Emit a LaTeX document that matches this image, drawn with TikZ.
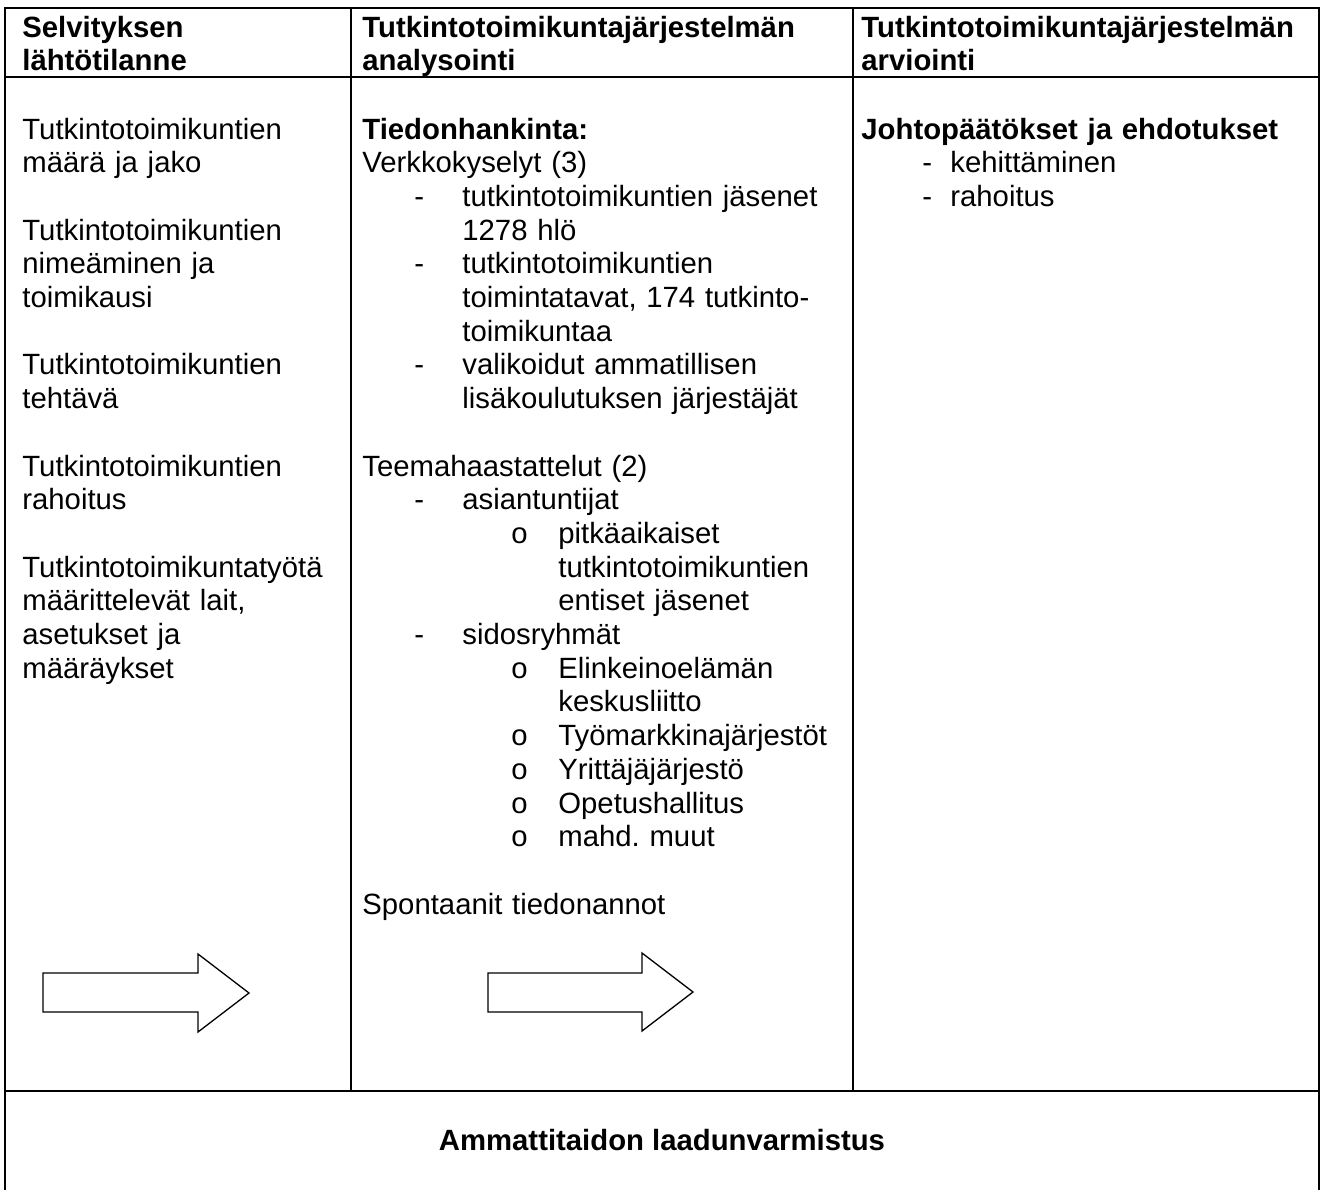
\documentclass[tikz,border=0pt]{standalone}
\usepackage{fontspec}
\setmainfont{Liberation Sans}
\usepackage{tikz}
\frenchspacing

% list indents inside the cells
\newcommand{\dashitem}{\hspace*{26pt}\makebox[24pt][l]{-}}
\newcommand{\dashcont}{\hspace*{50pt}}
\newcommand{\circitem}{\hspace*{74.5pt}\makebox[23.5pt][l]{o}}
\newcommand{\circcont}{\hspace*{98pt}}
\newcommand{\evalitem}{\hspace*{30.5pt}\makebox[14pt][l]{-}}

\begin{document}
\begin{tikzpicture}[
        x=0.5pt, y=-0.5pt,
        heading/.style={
            % The anchor
            anchor=base west,
            inner sep=0pt,
            % The box
            text width=225pt,
            align=left,
            % Font
            font=\fontsize{14.65pt}{16.85pt}\selectfont\bfseries
        },
        cell/.style={
            % The anchor
            anchor=base west,
            inner sep=0pt,
            % The box
            text width=242pt,
            align=left,
            % Font
            font=\fontsize{14.65pt}{16.85pt}\selectfont
        },
        rule/.style={
            % The border
            line width=1pt,
            line cap=rect,
            draw=black
        },
        blockarrow/.style={
            % The border
            line width=0.65pt,
            line join=miter,
            draw=black,
            fill=white
        },
    ]
        \useasboundingbox (0,0) rectangle (1322,1189);

        % table grid
        \draw[rule] (5,8) -- (1319,8);
        \draw[rule] (5,8) -- (5,1189);
        \draw[rule] (1319,8) -- (1319,1189);
        \draw[rule] (5,77) -- (1319,77);
        \draw[rule] (5,1091) -- (1319,1091);
        \draw[rule] (351,8) -- (351,1091);
        \draw[rule] (853,8) -- (853,1091);

        % headings
        \node (startHead) [heading] at (22,37) {Selvityksen \\ lähtötilanne};
        \node (analysisHead) [heading] at (362,37) {Tutkintotoimikuntajärjestelmän \\ analysointi};
        \node (evalHead) [heading] at (861,37) {Tutkintotoimikuntajärjestelmän \\ arviointi};

        % first column
        \node (startCell) [cell] at (22,139) {Tutkintotoimikuntien \\ määrä ja jako \\[16.85pt]
        Tutkintotoimikuntien \\ nimeäminen ja \\ toimikausi \\[16.85pt]
        Tutkintotoimikuntien \\ tehtävä \\[16.85pt]
        Tutkintotoimikuntien \\ rahoitus \\[16.85pt]
        Tutkintotoimikuntatyötä \\ määrittelevät lait, \\ asetukset ja \\ määräykset};

        % second column
        \node (analysisCell) [cell] at (362,139) {\textbf{Tiedonhankinta:} \\ Verkkokyselyt (3) \\
        \dashitem tutkintotoimikuntien jäsenet \\ \dashcont 1278 hlö \\
        \dashitem tutkintotoimikuntien \\ \dashcont toimintatavat, 174 tutkinto- \\ \dashcont toimikuntaa \\
        \dashitem valikoidut ammatillisen \\ \dashcont lisäkoulutuksen järjestäjät \\[16.85pt]
        Teemahaastattelut (2) \\
        \dashitem asiantuntijat \\
        \circitem pitkäaikaiset \\ \circcont tutkintotoimikuntien \\ \circcont entiset jäsenet \\
        \dashitem sidosryhmät \\
        \circitem Elinkeinoelämän \\ \circcont keskusliitto \\
        \circitem Työmarkkinajärjestöt \\
        \circitem Yrittäjäjärjestö \\
        \circitem Opetushallitus \\
        \circitem mahd. muut \\[16.85pt]
        Spontaanit tiedonannot};

        % third column
        \node (evalCell) [cell] at (861,139) {\textbf{Johtopäätökset ja ehdotukset} \\
        \evalitem kehittäminen \\
        \evalitem rahoitus};

        % block arrows
        \draw[blockarrow] (43,973) -- (198,973) -- (198,954) -- (249,993) -- (198,1032) -- (198,1012) -- (43,1012) -- cycle;
        \draw[blockarrow] (488,973) -- (642,973) -- (642,953) -- (693,992) -- (642,1031) -- (642,1012) -- (488,1012) -- cycle;

        % bottom row
        \node (qualityLabel) [heading,anchor=base,text width=,align=center] at (662,1150) {Ammattitaidon laadunvarmistus};

    \end{tikzpicture}
\end{document}
